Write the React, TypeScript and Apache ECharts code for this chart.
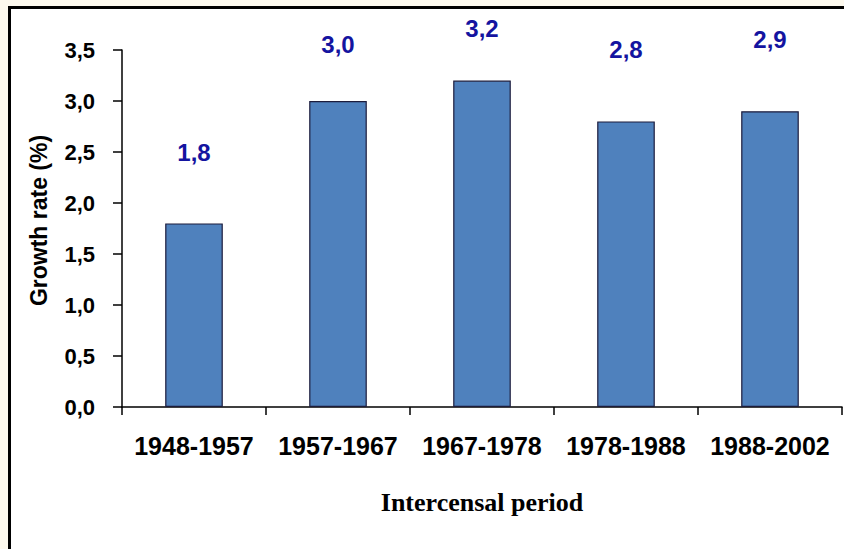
import React, { useEffect, useRef } from "react";
import * as echarts from "echarts";

const periods = ["1948-1957", "1957-1967", "1967-1978", "1978-1988", "1988-2002"];
const growthRates = [1.8, 3.0, 3.2, 2.8, 2.9];
const yTicks = [0, 0.5, 1, 1.5, 2, 2.5, 3, 3.5];
const labelDistances = [59, 45, 40, 60, 60];

const fmt = (v: number) => v.toFixed(1).replace(".", ",");

export default function App() {
  const ref = useRef<HTMLDivElement>(null);
  useEffect(() => {
    if (!ref.current) return;
    const chart = echarts.init(ref.current, null, { renderer: "svg" });
    chart.setOption({
      animation: false,
      grid: { left: 122, right: 2, top: 50, bottom: 142, containLabel: false },
      xAxis: {
        type: "category",
        data: periods,
        name: "Intercensal period",
        nameLocation: "middle",
        nameGap: 82,
        nameTextStyle: { fontFamily: "Liberation Serif", fontWeight: "bold", fontSize: 26, color: "#000" },
        axisLine: { lineStyle: { color: "#000", width: 1.5 } },
        axisTick: { show: true, length: 8, lineStyle: { color: "#000", width: 1.5 } },
        axisLabel: {
          interval: 0,
          hideOverlap: false,
          margin: 26,
          fontFamily: "Liberation Sans",
          fontWeight: "bold",
          fontSize: 25,
          color: "#000",
        },
      },
      yAxis: {
        type: "value",
        min: yTicks[0],
        max: yTicks[yTicks.length - 1],
        interval: 0.5,
        name: "Growth rate (%)",
        nameLocation: "middle",
        nameGap: 72,
        nameTextStyle: { fontFamily: "Liberation Sans", fontWeight: "bold", fontSize: 23, color: "#000", padding: [0, 0, 0, 16] },
        axisLine: { show: true, lineStyle: { color: "#000", width: 1.5 } },
        axisTick: { show: true, length: 9, lineStyle: { color: "#000", width: 1.5 } },
        splitLine: { show: false },
        axisLabel: {
          margin: 27,
          fontFamily: "Liberation Sans",
          fontWeight: "bold",
          fontSize: 22,
          color: "#000",
          formatter: (v: number) => fmt(v),
        },
      },
      series: [
        {
          type: "bar",
          barWidth: "40%",
          data: growthRates.map((v, i) => ({
            value: v,
            label: { distance: labelDistances[i] },
          })),
          itemStyle: { color: "#4F81BD", borderColor: "#1c1c3c", borderWidth: 1.2 },
          label: {
            show: true,
            position: "top",
            fontFamily: "Liberation Sans",
            fontWeight: "bold",
            fontSize: 24,
            color: "#1414a0",
            formatter: (p: any) => fmt(p.value),
          },
        },
      ],
    });
    return () => chart.dispose();
  }, []);

  return (
    <div style={{ position: "fixed", left: 0, top: 0, width: 844, height: 549, background: "#fdf9ee", overflow: "hidden" }}>
      <div
        style={{
          position: "absolute",
          left: 8,
          top: 6,
          width: 900,
          height: 600,
          background: "#fff",
          borderTop: "3px solid #000",
          borderLeft: "3px solid #000",
        }}
      />
      <div ref={ref} style={{ position: "absolute", left: 0, top: 0, width: 844, height: 549 }} />
    </div>
  );
}
